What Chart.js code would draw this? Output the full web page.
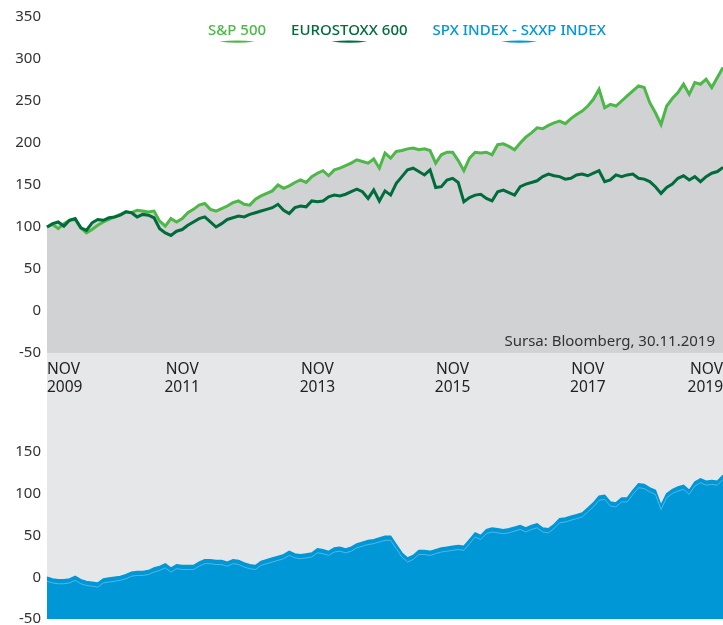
<!DOCTYPE html>
<html>
<head>
<meta charset="utf-8">
<script src="https://cdn.jsdelivr.net/npm/chart.js@4.4.1/dist/chart.umd.min.js"></script>
<style>
  html, body { margin: 0; padding: 0; background: #fff; }
  #wrap { position: relative; width: 723px; height: 625px; }
  #topChart { position: absolute; left: 0; top: 0; }
  #bottomChart { position: absolute; left: 0; top: 400px; }
</style>
</head>
<body>
<div id="wrap">
  <canvas id="topChart" width="723" height="400"></canvas>
  <canvas id="bottomChart" width="723" height="225"></canvas>
</div>
<script>
// monthly points, Nov 2009 .. Nov 2019 (rebased to 100)
const spx = [
  100, 103, 98, 104, 108, 109, 99, 93, 97, 102, 106, 109,
  112, 115, 118, 117, 120, 119, 118, 119, 107, 101, 110, 106,
  110, 117, 121, 126, 128, 121, 119, 122, 125, 129, 131, 127,
  126, 133, 137, 140, 143, 150, 146, 149, 153, 156, 153, 160,
  164, 167, 161, 168, 170, 173, 176, 180, 178, 176, 181, 170,
  188, 182, 190, 191, 193, 194, 192, 193, 191, 176, 186, 189,
  189, 179, 167, 182, 189, 188, 189, 186, 198, 199, 196, 192,
  200, 207, 212, 218, 217, 221, 224, 226, 223, 229, 234, 238,
  244, 252, 264, 242, 246, 244, 250, 256, 262, 268, 266, 248,
  236, 222, 244, 253, 260, 270, 258, 272, 270, 276, 266, 278,
  290
];
const sxxp = [
  100, 104, 106, 101, 108, 110, 99, 96, 105, 109, 108, 111,
  112, 114, 118, 117, 112, 115, 114, 111, 98, 93, 90, 95,
  97, 102, 106, 110, 112, 106, 100, 104, 109, 111, 113, 112,
  115, 117, 119, 121, 123, 127, 120, 116, 123, 125, 124, 131,
  130, 131, 136, 138, 137, 139, 142, 145, 142, 134, 144, 131,
  143, 138, 152, 160, 168, 170, 166, 162, 168, 147, 148, 156,
  158, 153, 130, 135, 138, 139, 134, 131, 142, 144, 141, 138,
  148, 151, 153, 155, 160, 163, 161, 160, 157, 158, 162, 163,
  161, 164, 167, 154, 156, 162, 160, 162, 163, 158, 157, 154,
  148, 140, 147, 151, 158, 161, 156, 160, 154, 160, 164, 166,
  171
];
const spread = [
  0, -2, -3, -3, -2, 1, -3, -5, -6, -7, -2, -1,
  0, 1, 3, 6, 7, 7, 8, 11, 13, 16, 11, 15,
  14, 14, 14, 18, 21, 21, 20, 20, 18, 21, 20, 17,
  15, 14, 19, 21, 23, 25, 27, 31, 28, 27, 28, 29,
  34, 33, 31, 35, 36, 34, 36, 40, 42, 44, 45, 47,
  49, 49, 39, 29, 23, 26, 32, 32, 31, 33, 35, 36,
  37, 38, 37, 45, 53, 50, 57, 59, 58, 57, 58, 60,
  62, 59, 62, 64, 59, 58, 63, 70, 71, 73, 75, 77,
  83, 89, 97, 98, 90, 89, 95, 95, 104, 112, 111, 107,
  104, 86, 100, 105, 108, 110, 104, 114, 118, 115, 116, 115,
  122
];
const tickLabels = [['NOV', '2009'], ['NOV', '2011'], ['NOV', '2013'], ['NOV', '2015'], ['NOV', '2017'], ['NOV', '2019']];
const seriesNames = ['S&P 500', 'EUROSTOXX 600', 'SPX INDEX - SXXP INDEX'];
const sourceNote = 'Sursa: Bloomberg, 30.11.2019';

const monNames = ['JAN','FEB','MAR','APR','MAY','JUN','JUL','AUG','SEP','OCT','NOV','DEC'];
const months = [];
for (let i = 0; i < spx.length; i++) {
  const k = i + 10;
  months.push(monNames[k % 12] + ' ' + (2009 + Math.floor(k / 12)));
}

const lightGreen = '#4db848';
const darkGreen = '#006c3b';
const blue = '#0097d7';
const FONT = '"Noto Sans", "Open Sans", sans-serif';

// light grey strip behind the date labels and the lower panel
const band = {
  id: 'band',
  beforeDraw(chart, args, opts) {
    const { ctx, chartArea: a } = chart;
    ctx.save();
    ctx.fillStyle = '#e6e7e9';
    if (opts.below) ctx.fillRect(a.left, a.bottom, a.right - a.left, chart.height - a.bottom);
    else ctx.fillRect(a.left, 0, a.right - a.left, a.bottom);
    ctx.restore();
  }
};

// legend with a small brush underline and the source note
const notes = {
  id: 'notes',
  afterDraw(chart) {
    const { ctx, chartArea: a } = chart;
    const colors = [lightGreen, darkGreen, blue];
    ctx.save();
    ctx.font = '500 15px ' + FONT;
    ctx.textBaseline = 'alphabetic';
    let x = 208;
    seriesNames.forEach((name, i) => {
      const w = ctx.measureText(name).width;
      ctx.fillStyle = colors[i];
      ctx.fillText(name, x, 35);
      const cx = x + w / 2;
      ctx.beginPath();
      ctx.moveTo(cx - 18, 41.5);
      ctx.quadraticCurveTo(cx, 44, cx + 18, 41.5);
      ctx.quadraticCurveTo(cx, 39.5, cx - 18, 41.5);
      ctx.fill();
      x += w + 25;
    });
    ctx.font = '15px ' + FONT;
    ctx.fillStyle = '#333';
    ctx.textAlign = 'right';
    ctx.fillText(sourceNote, a.right - 8, a.bottom - 7);
    ctx.restore();
  }
};

// thin lighter trace just under the edge of the blue area
const innerLine = {
  id: 'innerLine',
  afterDatasetsDraw(chart) {
    const { ctx, chartArea: a } = chart;
    const pts = chart.getDatasetMeta(0).data;
    ctx.save();
    ctx.beginPath();
    ctx.rect(a.left, a.top, a.right - a.left, a.bottom - a.top);
    ctx.clip();
    ctx.beginPath();
    pts.forEach((p, i) => i ? ctx.lineTo(p.x, p.y + 4) : ctx.moveTo(p.x, p.y + 4));
    ctx.strokeStyle = 'rgba(140, 210, 245, 0.55)';
    ctx.lineWidth = 1;
    ctx.stroke();
    ctx.restore();
  }
};

const yAxis = (min, max) => ({
  min: min,
  max: max,
  grid: { display: false, drawTicks: false },
  border: { display: false },
  ticks: { stepSize: 50, padding: 6, color: '#333', font: { family: FONT, size: 15 } },
  afterFit(scale) {
    scale.width = 47;
    scale.paddingTop = 0;
    scale.paddingBottom = 0;
  }
});

new Chart(document.getElementById('topChart').getContext('2d'), {
  type: 'line',
  data: {
    labels: months,
    datasets: [
      { label: seriesNames[1], data: sxxp, borderColor: darkGreen, backgroundColor: '#d1d2d4', fill: 'start', borderWidth: 3 },
      { label: seriesNames[0], data: spx, borderColor: lightGreen, backgroundColor: '#d1d2d4', fill: 'start', borderWidth: 3 }
    ]
  },
  options: {
    responsive: false,
    animation: false,
    layout: { padding: { top: 17, right: 0, bottom: 0, left: 0 } },
    elements: { point: { radius: 0 }, line: { tension: 0 } },
    plugins: {
      legend: { display: false },
      tooltip: { enabled: false },
      filler: { drawTime: 'beforeDatasetsDraw' },
      band: { below: true }
    },
    scales: {
      x: {
        grid: { display: false, drawTicks: false },
        border: { display: false },
        afterBuildTicks(scale) {
          scale.ticks = scale.ticks.filter(t => t.value % 24 === 0);
        },
        ticks: {
          autoSkip: false,
          maxRotation: 0,
          align: 'inner',
          padding: 8,
          color: '#222',
          font: { family: FONT, size: 15.5, lineHeight: 1.15 },
          callback: (value) => tickLabels[value / 24]
        },
        afterFit(scale) {
          scale.height = 47;
          scale.paddingLeft = 0;
          scale.paddingRight = 0;
        }
      },
      y: yAxis(-50, 350)
    }
  },
  plugins: [band, notes]
});

new Chart(document.getElementById('bottomChart').getContext('2d'), {
  type: 'line',
  data: {
    labels: months,
    datasets: [
      { label: seriesNames[2], data: spread, borderColor: blue, backgroundColor: blue, fill: 'start', borderWidth: 1.5 }
    ]
  },
  options: {
    responsive: false,
    animation: false,
    layout: { padding: { top: 52, right: 0, bottom: 6, left: 0 } },
    elements: { point: { radius: 0 }, line: { tension: 0 } },
    plugins: {
      legend: { display: false },
      tooltip: { enabled: false },
      band: { below: false }
    },
    scales: {
      x: { display: false },
      y: yAxis(-50, 150)
    }
  },
  plugins: [band, innerLine]
});
</script>
</body>
</html>
